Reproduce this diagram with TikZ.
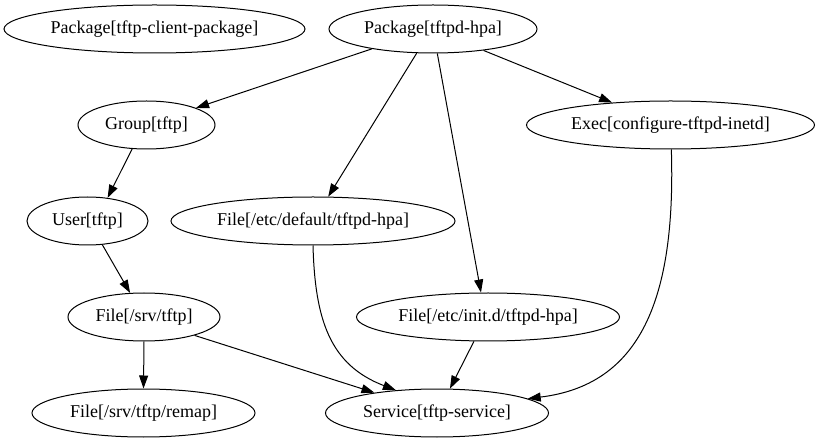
\documentclass[tikz,border=0pt]{standalone}
\usepackage{fontspec}
\setmainfont{Liberation Serif}
\usetikzlibrary{shapes.geometric,arrows.meta}
\begin{document}
\begin{tikzpicture}[x=1pt,y=-1pt,
  res/.style={ellipse,draw,line width=1pt,minimum height=48pt,inner sep=0pt,
    font=\fontsize{18}{20}\selectfont},
  edge/.style={line width=1pt,-{Triangle[length=13pt,width=9pt]}}]
\fill[white,use as bounding box] (0,0) rectangle (819,443);
\node[res,minimum width=301pt] (pc) at (154.5,29) {Package[tftp-client-package]};
\node[res,minimum width=208pt] (ph) at (433,29) {Package[tftpd-hpa]};
\node[res,minimum width=137pt] (grp) at (146.5,125) {Group[tftp]};
\node[res,minimum width=288pt] (exec) at (670.5,125) {Exec[configure-tftpd-inetd]};
\node[res,minimum width=121pt] (user) at (87.5,221) {User[tftp]};
\node[res,minimum width=284pt] (def) at (313,221) {File[/etc/default/tftpd-hpa]};
\node[res,minimum width=152pt] (srv) at (144,317) {File[/srv/tftp]};
\node[res,minimum width=263pt] (init) at (488,317) {File[/etc/init.d/tftpd-hpa]};
\node[res,minimum width=223pt] (remap) at (143.5,413) {File[/srv/tftp/remap]};
\node[res,minimum width=223pt] (svc) at (437,413) {Service[tftp-service]};
\draw[edge] (ph.198) -- (grp.19);
\draw[edge] (ph.236) -- (def.58);
\draw[edge] (ph.280) -- (init.106);
\draw[edge] (ph.337) -- (exec.159);
\draw[edge] (grp.239) -- (user.49);
\draw[edge] (user.302) -- (srv.120);
\draw[edge] (srv.270) -- (remap.90);
\draw[edge] (srv.340) -- (svc.162);
\draw[edge] (def.270) .. controls (315,320) and (330,365) .. (svc.151);
\draw[edge] (init.240) -- (svc.62);
\draw[edge] (exec.272) .. controls (676,300) and (640,385) .. (svc.9);
\end{tikzpicture}
\end{document}
